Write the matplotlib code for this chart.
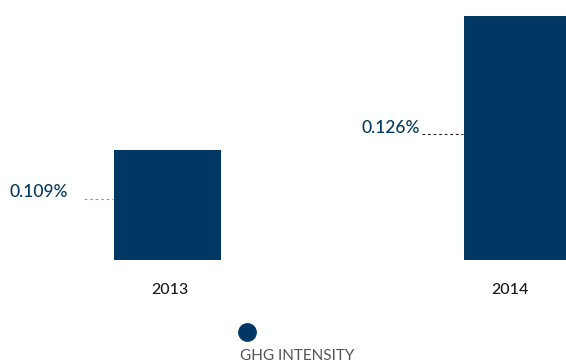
import matplotlib
matplotlib.use("Agg")
import matplotlib.pyplot as plt

years = ["2013", "2014"]
values = [0.109, 0.126]
value_labels = ["0.109%", "0.126%"]
series_name = "GHG INTENSITY"

NAVY = "#003863"
W, H = 566, 364
plt.rcParams['font.family'] = ['Lato', 'DejaVu Sans']

fig = plt.figure(figsize=(W / 100, H / 100), dpi=100)

def fx(px):
    return px / W

def fy(py):
    return 1 - py / H

# axes: bottom of bars at y=260 px, top at figure top
ax = fig.add_axes([0, fy(260), 1, 260 / H])
x = list(range(len(years)))
ax.bar(x, values, width=0.306, color=NAVY, align="center")
ax.set_xlim(-0.4786, 1.1386)
ax.set_ylim(0.095045, 0.12803)
ax.axis("off")

# year labels
for xc, yr in zip([169.5, 510], years):
    fig.text(fx(xc), fy(290), yr, ha="center", va="center", fontsize=11.5,
             color="#1a1a1a", fontweight="medium")

# value labels with dashed leaders
lab_pos = [(10, 192, 84, 113, 199, "#9a9a9a"), (362, 128, 422, 463, 134, "#222222")]
for (tx, ty, l0, l1, ly, lc), lbl in zip(lab_pos, value_labels):
    fig.text(fx(tx), fy(ty), lbl, ha="left", va="center", fontsize=12.5, color=NAVY,
             fontweight="medium")
    fig.add_artist(plt.Line2D([fx(l0), fx(l1)], [fy(ly), fy(ly)], color=lc,
                              linewidth=0.8, linestyle=(0, (2.5, 2.5)),
                              transform=fig.transFigure))

# legend
fig.add_artist(plt.Line2D([fx(247)], [fy(332)], marker="o", markersize=12.5,
                          color=NAVY, linestyle="none", transform=fig.transFigure))
fig.text(fx(240), fy(356), series_name, ha="left", va="center", fontsize=11,
         color="#555555", fontweight="normal")

fig.savefig("out.png", dpi=100)
